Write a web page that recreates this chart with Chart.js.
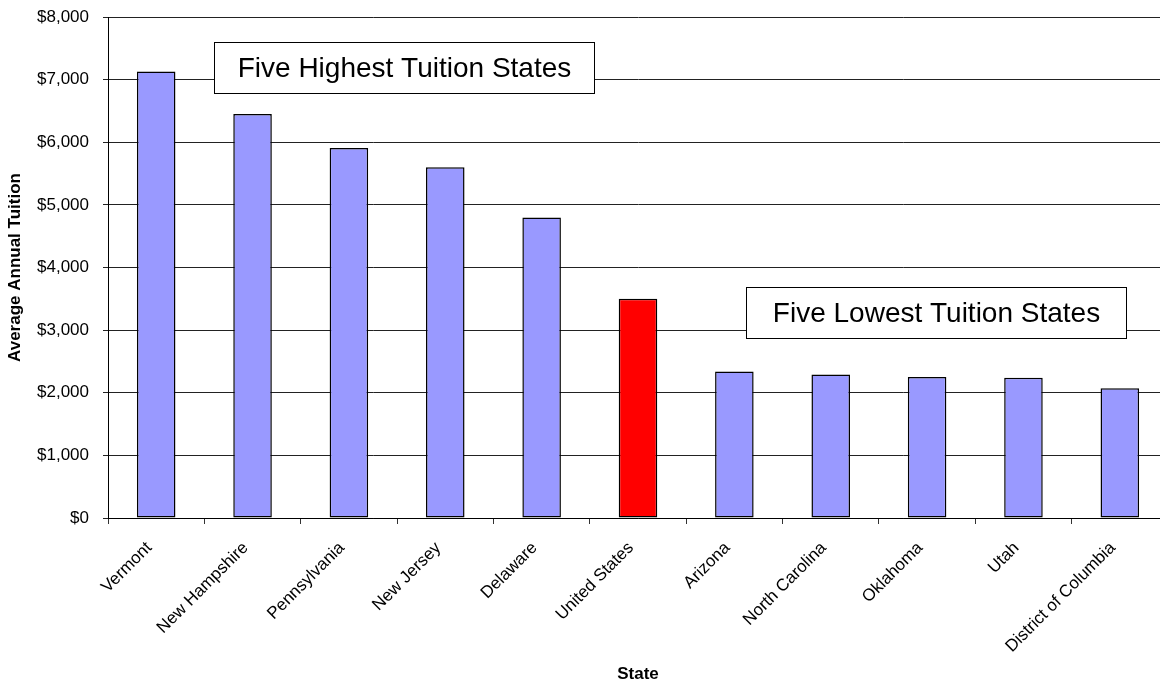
<!DOCTYPE html>
<html lang="en">
<head>
    <meta charset="UTF-8">
    <title>Average Annual Tuition by State</title>
    <script src="https://cdn.jsdelivr.net/npm/chart.js"></script>
    <style>
        html, body {
            margin: 0;
            padding: 0;
            background-color: white;
            overflow: hidden;
        }
        .chart-container {
            position: relative;
            width: 1168px;
            height: 685px;
        }
    </style>
</head>
<body>
    <div class="chart-container">
        <canvas id="tuitionChart"></canvas>
    </div>

    <script>
        const states = ['Vermont', 'New Hampshire', 'Pennsylvania', 'New Jersey', 'Delaware',
            'United States', 'Arizona', 'North Carolina', 'Oklahoma', 'Utah', 'District of Columbia'];
        const tuition = [7130, 6450, 5910, 5600, 4800, 3500, 2340, 2290, 2250, 2240, 2070];
        const yTicks = [0, 1000, 2000, 3000, 4000, 5000, 6000, 7000, 8000];
        const callouts = ['Five Highest Tuition States', 'Five Lowest Tuition States'];

        const FONT = "'Liberation Sans', Arial, sans-serif";

        // boxed text labels, placed inside the plot area (px from its top-left)
        const calloutPlugin = {
            id: 'callouts',
            afterDraw(chart) {
                const ctx = chart.ctx;
                const area = chart.chartArea;
                const boxes = [
                    { text: callouts[0], x: 106, y: 25, w: 380, h: 51 },
                    { text: callouts[1], x: 638, y: 270, w: 380, h: 51 }
                ];
                ctx.save();
                ctx.font = '28px ' + FONT;
                ctx.textAlign = 'center';
                ctx.textBaseline = 'middle';
                boxes.forEach(b => {
                    const bx = Math.round(area.left + b.x) + 0.5;
                    const by = Math.round(area.top + b.y) + 0.5;
                    ctx.fillStyle = '#ffffff';
                    ctx.fillRect(bx, by, b.w, b.h);
                    ctx.strokeStyle = '#000000';
                    ctx.lineWidth = 1;
                    ctx.strokeRect(bx, by, b.w, b.h);
                    ctx.fillStyle = '#000000';
                    ctx.fillText(b.text, bx + b.w / 2, by + b.h / 2 + 1);
                });
                ctx.restore();
            }
        };

        const ctx = document.getElementById('tuitionChart').getContext('2d');
        new Chart(ctx, {
            type: 'bar',
            data: {
                labels: states,
                datasets: [{
                    data: tuition,
                    backgroundColor: states.map(s => s === 'United States' ? '#ff0000' : '#9999ff'),
                    borderColor: '#000000',
                    borderWidth: 1.5,
                    borderSkipped: false,
                    categoryPercentage: 1.0,
                    barPercentage: 0.4
                }]
            },
            options: {
                responsive: true,
                maintainAspectRatio: false,
                animation: false,
                layout: {
                    padding: { top: 17, right: 0, left: 0, bottom: 0 }
                },
                plugins: {
                    legend: { display: false },
                    tooltip: { enabled: false }
                },
                scales: {
                    y: {
                        min: 0,
                        max: 8000,
                        afterFit(scale) {
                            scale.width = 108;
                            scale.paddingTop = 0;
                            scale.paddingBottom = 0;
                        },
                        afterBuildTicks(scale) {
                            scale.ticks = yTicks.map(v => ({ value: v }));
                        },
                        ticks: {
                            color: '#000000',
                            font: { family: FONT, size: 17 },
                            padding: 14,
                            callback: v => '$' + v.toLocaleString('en-US')
                        },
                        grid: {
                            color: '#222222',
                            lineWidth: 1,
                            tickLength: 5
                        },
                        border: { color: '#000000', width: 1 },
                        title: {
                            display: true,
                            text: 'Average Annual Tuition',
                            color: '#000000',
                            font: { family: FONT, size: 17, weight: 'bold' },
                            padding: { top: 5, bottom: 0 }
                        }
                    },
                    x: {
                        afterFit(scale) {
                            scale.height = 167;
                            scale.paddingLeft = 0;
                            scale.paddingRight = 0;
                        },
                        ticks: {
                            color: '#000000',
                            font: { family: FONT, size: 17 },
                            minRotation: 45,
                            maxRotation: 45,
                            autoSkip: false,
                            padding: 14,
                            labelOffset: -7
                        },
                        grid: {
                            offset: true,
                            drawOnChartArea: false,
                            color: '#333333',
                            tickLength: 6
                        },
                        border: { color: '#000000', width: 1 },
                        title: {
                            display: true,
                            text: 'State',
                            color: '#000000',
                            font: { family: FONT, size: 17, weight: 'bold' },
                            padding: { top: 0, bottom: 0 }
                        }
                    }
                }
            },
            plugins: [calloutPlugin]
        });
    </script>
</body>
</html>
